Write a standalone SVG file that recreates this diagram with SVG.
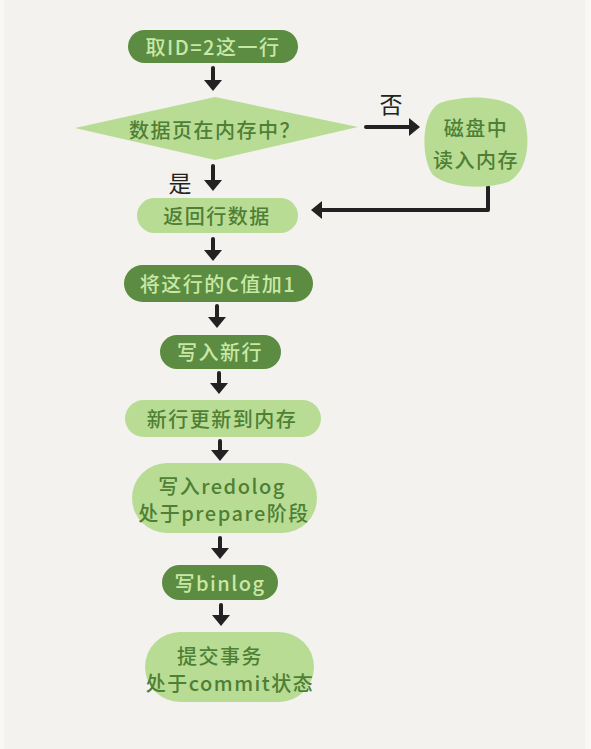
<svg xmlns="http://www.w3.org/2000/svg" width="591" height="749" viewBox="0 0 591 749">
  <style>
    .dark { fill: #5b8c41; }
    .light { fill: #b9dc95; }
    .tl { fill: #c9e8a6; font-family: "Noto Sans CJK SC", "Noto Sans", sans-serif; font-size: 20px; font-weight: 500; letter-spacing: 1.5px; text-anchor: middle; dominant-baseline: central; }
    .td { fill: #4e7f34; font-family: "Noto Sans CJK SC", "Noto Sans", sans-serif; font-size: 20px; font-weight: 500; letter-spacing: 1.5px; text-anchor: middle; dominant-baseline: central; }
    .tb { fill: #222; font-family: "Noto Sans CJK SC", sans-serif; font-size: 23px; text-anchor: middle; dominant-baseline: central; }
    .edge { stroke: #222; stroke-width: 4; fill: none; stroke-linecap: round; stroke-linejoin: round; }
  </style>
  <defs>
    <!-- wide, flat arrowhead -->
    <marker id="head" viewBox="0 0 11 18" refX="5" refY="9" markerWidth="2.75" markerHeight="4.5" orient="auto" markerUnits="strokeWidth">
      <path d="M0,0 L11,9 L0,18 z" fill="#222"/>
    </marker>
  </defs>

  <!-- page -->
  <rect x="0" y="0" width="591" height="749" fill="#f3f2ee"/>
  <rect x="0" y="0" width="4" height="749" fill="#f8f8f5"/>
  <rect x="585" y="0" width="6" height="749" fill="#f8f8f5"/>

  <!-- connectors -->
  <g id="connectors">
    <path class="edge" d="M213,68 V85" marker-end="url(#head)"/>
    <path class="edge" d="M366,127 H414" marker-end="url(#head)"/>
    <path class="edge" d="M213,166 V185" marker-end="url(#head)"/>
    <path class="edge" d="M488,187 V210 H317" marker-end="url(#head)"/>
    <path class="edge" d="M213,239 V255" marker-end="url(#head)"/>
    <path class="edge" d="M217,306 V322" marker-end="url(#head)"/>
    <path class="edge" d="M219,373 V388" marker-end="url(#head)"/>
    <path class="edge" d="M220,441 V455" marker-end="url(#head)"/>
    <path class="edge" d="M220,538 V553" marker-end="url(#head)"/>
    <path class="edge" d="M221,605 V620" marker-end="url(#head)"/>
    <text class="tb" x="391" y="103">否</text>
    <text class="tb" x="180" y="182">是</text>
  </g>

  <g id="n1">
    <rect class="dark" x="128" y="30" width="170" height="33" rx="16.5"/>
    <text class="tl" x="213" y="46">取ID=2这一行</text>
  </g>

  <g id="n2">
    <path class="light" d="M75,128 L215,97 L358,127 L215,160 Z"/>
    <text class="td" x="215" y="129">数据页在内存中？</text>
  </g>

  <g id="n3">
    <path class="light" d="M440,103 C470,93 515,96 524,118 C531,140 528,172 508,182 C485,190 448,188 433,175 C421,160 420,113 440,103 Z"/>
    <text class="td" x="476" y="127">磁盘中</text>
    <text class="td" x="476" y="159">读入内存</text>
  </g>

  <g id="n4">
    <rect class="light" x="137" y="198" width="161" height="35" rx="17.5"/>
    <text class="td" x="217" y="215">返回行数据</text>
  </g>

  <g id="n5">
    <rect class="dark" x="124" y="265" width="189" height="37" rx="18.5"/>
    <text class="tl" x="218" y="283">将这行的C值加1</text>
  </g>

  <g id="n6">
    <rect class="dark" x="160" y="335" width="121" height="34" rx="17"/>
    <text class="tl" x="220" y="351">写入新行</text>
  </g>

  <g id="n7">
    <rect class="light" x="125" y="400" width="196" height="37" rx="18.5"/>
    <text class="td" x="222" y="418">新行更新到内存</text>
  </g>

  <g id="n8">
    <rect class="light" x="132" y="463" width="185" height="70" rx="35"/>
    <text class="td" x="222" y="485">写入redolog</text>
    <text class="td" x="224" y="512">处于prepare阶段</text>
  </g>

  <g id="n9">
    <rect class="dark" x="162" y="565" width="116" height="35" rx="17.5"/>
    <text class="tl" x="220" y="582">写binlog</text>
  </g>

  <g id="n10">
    <rect class="light" x="145" y="632" width="169" height="70" rx="35"/>
    <text class="td" x="220" y="655">提交事务</text>
    <text class="td" x="230" y="682">处于commit状态</text>
  </g>
</svg>
